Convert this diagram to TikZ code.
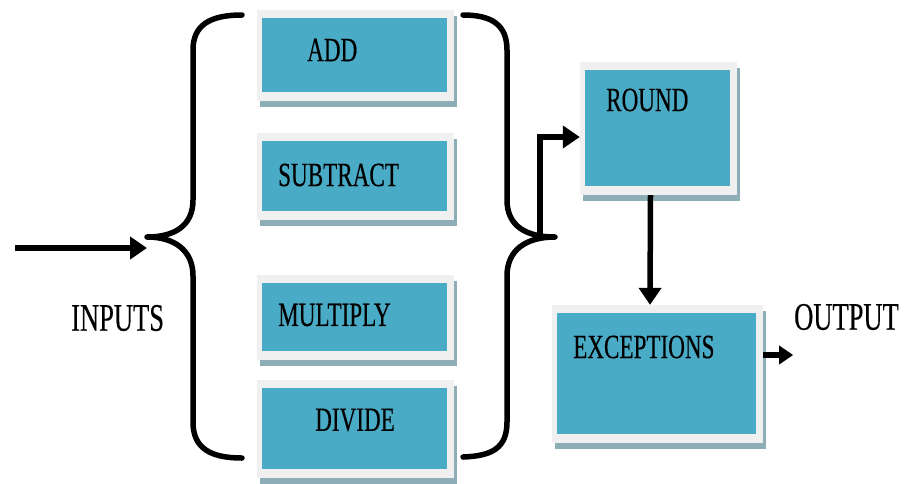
\documentclass[tikz,border=0pt]{standalone}
\usepackage{fontspec}
\setmainfont{Liberation Serif}[FakeStretch=0.68,FakeBold=0.3]
\usetikzlibrary{arrows.meta,shadows}

\definecolor{boxteal}{HTML}{4AABC6}
\definecolor{framegray}{HTML}{F0F0F0}
\definecolor{shadowc}{HTML}{8EAEB7}

\tikzset{
  opbox/.style 2 args={rectangle, fill=framegray, draw=none, inner sep=0pt,
    minimum width=#1, minimum height=#2,
    drop shadow={shadow xshift=3pt, shadow yshift=-6pt, fill=shadowc, opacity=1},
    path picture={\fill[boxteal]
      ([xshift=5pt,yshift=-8pt]path picture bounding box.north west) rectangle
      ([xshift=-7pt,yshift=9pt]path picture bounding box.south east);}},
  boxlabel/.style={font=\fontsize{34}{36}\selectfont, inner sep=0pt, anchor=west},
  biglabel/.style={font=\fontsize{39}{41}\selectfont, inner sep=0pt, anchor=west},
  brace/.style={line width=5.5pt, line cap=round, line join=round},
  flow/.style={line width=5.5pt, -{Triangle[length=17pt,width=22pt]}},
  smallflow/.style={line width=5.5pt, -{Triangle[length=14pt,width=18pt]}},
}

\begin{document}
\begin{tikzpicture}[x=1pt,y=-1pt]
\useasboundingbox (0,0) rectangle (905,483);

% operation boxes
\node[opbox={197pt}{91pt}]  (add) at (355.5,55.5) {};
\node[opbox={197pt}{87pt}]  (sub) at (355.5,176.5) {};
\node[opbox={197pt}{85pt}]  (mul) at (355.5,317.5) {};
\node[opbox={197pt}{98pt}]  (div) at (355.5,429) {};
\node[opbox={157pt}{133pt}] (rnd) at (658.5,128.5) {};
\node[opbox={211pt}{138pt}] (exc) at (657.5,374) {};

% box labels
\node[boxlabel] (tadd) at (307,50)  {ADD};
\node[boxlabel] (tsub) at (278,175) {SUBTRACT};
\node[boxlabel] (tmul) at (278,315) {MULTIPLY};
\node[boxlabel] (tdiv) at (315,420) {DIVIDE};
\node[boxlabel] (trnd) at (606,100) {ROUND};
\node[boxlabel] (texc) at (573,347) {EXCEPTIONS};

% outside labels
\node[biglabel] (tin)  at (71,318)  {INPUTS};
\node[biglabel] (tout) at (794,317) {OUTPUT};

% braces
\coordinate (ltip) at (147,237);
\coordinate (rtip) at (555,237);
\draw[brace] (242,15) .. controls (210,15) and (193,25) .. (193,50)
  -- (193,200) .. controls (193,226) and (174,237) .. (ltip)
  .. controls (174,237) and (193,250) .. (193,276)
  -- (193,422) .. controls (193,448) and (210,458) .. (242,458);
\draw[brace] (463,15) .. controls (492,15) and (507,25) .. (507,50)
  -- (507,200) .. controls (507,226) and (526,237) .. (rtip)
  .. controls (526,237) and (507,250) .. (507,276)
  -- (507,422) .. controls (507,448) and (492,456) .. (463,457);

% connectors
\coordinate (inp) at (15,248);
\draw[flow] (inp) -- (inp -| ltip);
\coordinate (bend) at (540,137);
\draw[flow, line join=miter] (rtip) -- (bend |- rtip) -- (bend) -- (bend -| rnd.west);
\draw[flow] ([xshift=-8pt]rnd.south) -- ([xshift=-7.5pt]exc.north);
\draw[smallflow] ([yshift=19pt]exc.east) -- ++(30,0) coordinate (outp);
\end{tikzpicture}
\end{document}
